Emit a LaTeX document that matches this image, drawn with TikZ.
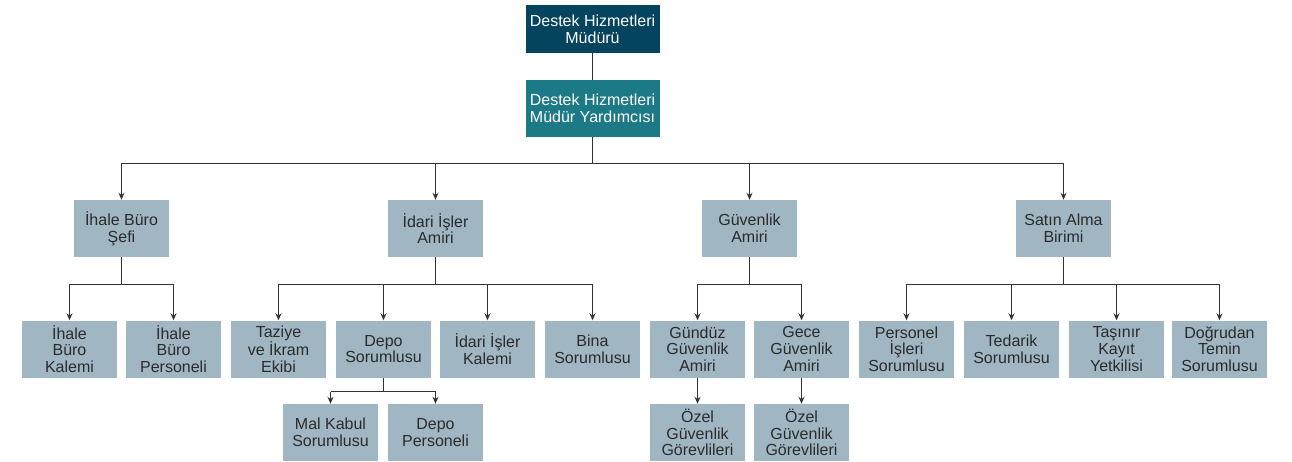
\documentclass[tikz,border=0pt]{standalone}
\usepackage{fontspec}
\setmainfont{Liberation Sans}
\usetikzlibrary{arrows.meta,positioning}
\definecolor{navy}{HTML}{05445E}
\definecolor{tealbox}{HTML}{1C7986}
\definecolor{greybox}{HTML}{A0B6C2}
\definecolor{ink}{HTML}{2B2B2B}
\definecolor{linegrey}{HTML}{333333}

\begin{document}
\begin{tikzpicture}[x=1pt,y=-1pt,
  unit/.style={fill=greybox,text=ink,align=center,inner sep=0pt,
    minimum width=95pt,minimum height=57pt,
    font=\fontsize{16}{16.7}\selectfont},
  head/.style={unit,text=white,minimum width=134pt},
  wire/.style={draw=linegrey,line width=1.2pt},
  arr/.style={wire,-{Stealth[length=7pt,width=6pt]}}]
  \useasboundingbox (0,0) rectangle (1292,462);
  % top of the chart
  \node[head,fill=navy,minimum height=48pt] (mudur) at (592.5,29) {Destek Hizmetleri\\Müdürü};
  \node[head,fill=tealbox] (yard) at (592.5,108.5) {Destek Hizmetleri\\Müdür Yardımcısı};
  % second level
  \node[unit] (ihale) at (121.5,228.5) {İhale Büro\\Şefi};
  \node[unit] (idari) at (435.5,228.5) {İdari İşler\\Amiri};
  \node[unit] (guv) at (749.5,228.5) {Güvenlik\\Amiri};
  \node[unit] (satin) at (1063.5,228.5) {Satın Alma\\Birimi};
  % third level
  \node[unit] (ikalem) at (69.5,349) {İhale\\Büro\\Kalemi};
  \node[unit] (ipers) at (173.5,349) {İhale\\Büro\\Personeli};
  \node[unit] (taziye) at (278.5,349) {Taziye\\ve İkram\\Ekibi};
  \node[unit] (depo) at (383.5,349) {Depo\\Sorumlusu};
  \node[unit] (dkalem) at (487.5,349) {İdari İşler\\Kalemi};
  \node[unit] (bina) at (592.5,349) {Bina\\Sorumlusu};
  \node[unit] (gunduz) at (697.5,349) {Gündüz\\Güvenlik\\Amiri};
  \node[unit] (gece) at (801.5,349) {Gece\\Güvenlik\\Amiri};
  \node[unit] (pers) at (906.5,349) {Personel\\İşleri\\Sorumlusu};
  \node[unit] (tedarik) at (1011.5,349) {Tedarik\\Sorumlusu};
  \node[unit] (tasinir) at (1116.5,349) {Taşınır\\Kayıt\\Yetkilisi};
  \node[unit] (temin) at (1219.5,349) {Doğrudan\\Temin\\Sorumlusu};
  % fourth level
  \node[unit] (malkabul) at (330.5,432.5) {Mal Kabul\\Sorumlusu};
  \node[unit] (dpers) at (435.5,432.5) {Depo\\Personeli};
  \node[unit] (ozel1) at (697.5,432.5) {Özel\\Güvenlik\\Görevlileri};
  \node[unit] (ozel2) at (801.5,432.5) {Özel\\Güvenlik\\Görevlileri};
  % connectors
  \draw[wire] (mudur) -- (yard);
  \draw[wire] (yard.south) -- ++(0,26) coordinate (busyard);
  \draw[wire] (ihale.north |- busyard) -- (satin.north |- busyard);
  \foreach \t in {ihale,idari,guv,satin}
    \draw[arr] (\t.north |- busyard) -- (\t.north);
  \draw[wire] (ihale.south) -- ++(0,27) coordinate (busihale);
  \draw[wire] (ikalem.north |- busihale) -- (ipers.north |- busihale);
  \foreach \t in {ikalem,ipers}
    \draw[arr] (\t.north |- busihale) -- (\t.north);
  \draw[wire] (idari.south) -- ++(0,27) coordinate (busidari);
  \draw[wire] (taziye.north |- busidari) -- (bina.north |- busidari);
  \foreach \t in {taziye,depo,dkalem,bina}
    \draw[arr] (\t.north |- busidari) -- (\t.north);
  \draw[wire] (guv.south) -- ++(0,27) coordinate (busguv);
  \draw[wire] (gunduz.north |- busguv) -- (gece.north |- busguv);
  \foreach \t in {gunduz,gece}
    \draw[arr] (\t.north |- busguv) -- (\t.north);
  \draw[wire] (satin.south) -- ++(0,27) coordinate (bussatin);
  \draw[wire] (pers.north |- bussatin) -- (temin.north |- bussatin);
  \foreach \t in {pers,tedarik,tasinir,temin}
    \draw[arr] (\t.north |- bussatin) -- (\t.north);
  \draw[wire] (depo.south) -- ++(0,14) coordinate (busdepo);
  \draw[wire] (malkabul.north |- busdepo) -- (dpers.north |- busdepo);
  \foreach \t in {malkabul,dpers}
    \draw[arr] (\t.north |- busdepo) -- (\t.north);
  \draw[arr] (gunduz) -- (ozel1);
  \draw[arr] (gece) -- (ozel2);
\end{tikzpicture}
\end{document}
